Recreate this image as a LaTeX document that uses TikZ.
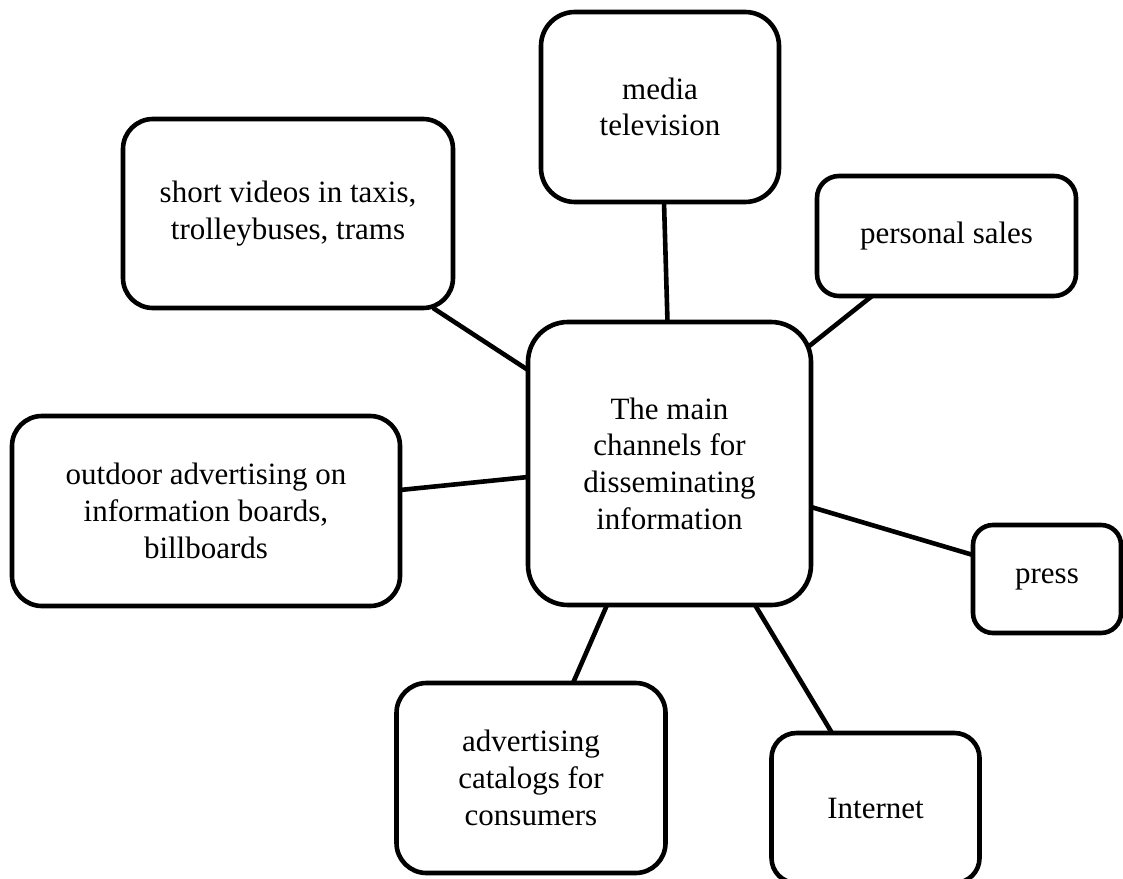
\documentclass[tikz,border=0pt]{standalone}
\usepackage{fontspec}
\setmainfont{Liberation Serif}
\usetikzlibrary{calc}

\tikzset{
  box/.style={draw, rectangle, line width=4.6pt, fill=white,
    align=center, inner sep=0pt, outer sep=0pt,
    font=\fontsize{31}{36.7}\selectfont},
  link/.style={line width=4.6pt}
}

\begin{document}
\begin{tikzpicture}[x=1pt, y=-1pt]
  \useasboundingbox (0,0) rectangle (1123,878);
  \clip (0,0) rectangle (1123,878);

  % central node
  \node[box, rounded corners=40pt, minimum width=283pt, minimum height=283pt]
    (c) at (669.5,463.5) {The main\\channels for\\disseminating\\information};

  % surrounding channels
  \node[box, rounded corners=34pt, minimum width=238pt, minimum height=190pt]
    (media) at (660,107) {media\\television};
  \node[box, rounded corners=30pt, minimum width=330pt, minimum height=189pt]
    (sv) at (288,213.5) {short videos in taxis,\\trolleybuses, trams};
  \node[box, rounded corners=22pt, minimum width=259pt, minimum height=120pt]
    (ps) at (946.5,236) {personal sales};
  \node[box, rounded corners=30pt, minimum width=388pt, minimum height=190pt]
    (od) at (206,511) {outdoor advertising on\\information boards,\\billboards};
  \node[box, rounded corners=20pt, minimum width=148pt, minimum height=108pt]
    (pr) at (1047,579) {press};
  \node[box, rounded corners=30pt, minimum width=269pt, minimum height=190pt]
    (cat) at (531,778) {advertising\\catalogs for\\consumers};
  \node[box, rounded corners=25pt, minimum width=208pt, minimum height=150pt]
    (net) at (875.5,808) {Internet};

  % connectors
  \draw[link] ($(sv.south east)+(-20,0)$) -- ($(c.north west)+(0,48)$);
  \draw[link] ($(media.south)+(4,0)$) -- ($(c.north)+(-2,0)$);
  \draw[link] ($(ps.south west)+(55,0)$) -- ($(c.north east)+(-3,25)$);
  \draw[link] ($(od.east)+(0,-21)$) -- ($(c.west)+(0,13.5)$);
  \draw[link] ($(c.east)+(0,43.5)$) -- ($(pr.west)+(0,-24)$);
  \draw[link] ($(c.south)+(-62.5,0)$) -- ($(cat.north)+(42,0)$);
  \draw[link] ($(c.south)+(85.5,0)$) -- ($(net.north)+(-43.5,0)$);
\end{tikzpicture}
\end{document}
